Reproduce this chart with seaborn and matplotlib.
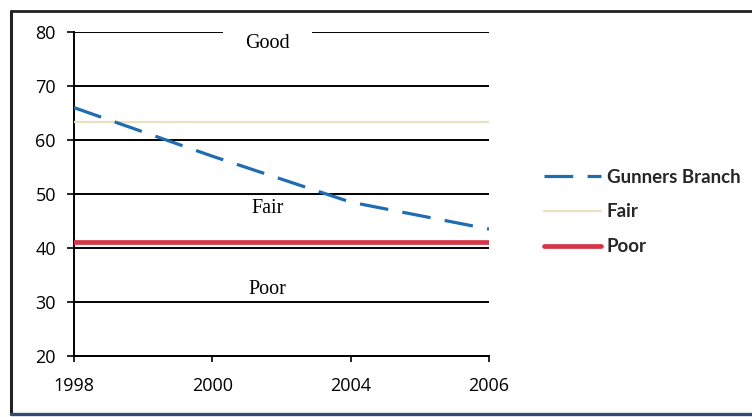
import matplotlib
matplotlib.use("Agg")
import matplotlib.pyplot as plt
import seaborn as sns
from matplotlib.lines import Line2D

# chart values
years = ["1998", "2000", "2004", "2006"]
gunners = [66, 57, 48.5, 43.5]
fair = [63.3, 63.3, 63.3, 63.3]
poor = [41.2, 41.2, 41.2, 41.2]
y_ticks = [20, 30, 40, 50, 60, 70, 80]
zones = ["Good", "Fair", "Poor"]
zone_y = [77.9, 47.4, 32.3]

sns.set_theme(style="white")
plt.rcParams["font.family"] = ["Open Sans", "DejaVu Sans"]

fig = plt.figure(figsize=(7.52, 4.17), dpi=100)
ax = fig.add_axes([74 / 752, 1 - 356 / 417, 415 / 752, 324 / 417])

sns.lineplot(x=years, y=gunners, ax=ax, color="#1f6db0", lw=2.3,
             sort=False, label="Gunners Branch", zorder=4)
ax.lines[-1].set_dashes((9, 4.5))
sns.lineplot(x=years, y=fair, ax=ax, color="#e6e2c2", lw=1.6,
             sort=False, label="Fair", zorder=3)
sns.lineplot(x=years, y=poor, ax=ax, color="#d63447", lw=3.4,
             sort=False, label="Poor", zorder=3)

ax.set_xlim(0, 3)
ax.set_ylim(20, 80)
ax.set_yticks(y_ticks)
ax.yaxis.grid(True, color="black", lw=1.4)
ax.xaxis.grid(False)
ax.set_axisbelow(True)
for s in ["top", "right"]:
    ax.spines[s].set_visible(False)
for s in ["left", "bottom"]:
    ax.spines[s].set_color("black")
    ax.spines[s].set_linewidth(1.4)
ax.tick_params(axis="y", left=True, length=5, width=1.2, pad=8,
               labelsize=13, colors="black")
ax.tick_params(axis="x", bottom=True, length=4, width=1.2, pad=11,
               labelsize=13, colors="black")
ax.set_xlabel("")
ax.set_ylabel("")

# zone names, "Good" hides part of the top grid line
for name, y in zip(zones, zone_y):
    box = None
    if name == "Good":
        box = dict(facecolor="white", edgecolor="none", boxstyle="square,pad=1.1")
    ax.text(1.4, y, name, ha="center", va="center", fontsize=14.5,
            family="Liberation Serif", color="black", bbox=box, zorder=5)

ax.get_legend().remove()
handles, labels = ax.get_legend_handles_labels()
fig.legend(handles, labels, loc="center left", bbox_to_anchor=(527 / 752, 1 - 212 / 417),
           frameon=False, handlelength=3.05, handletextpad=0.3, labelspacing=0.95,
           prop={"family": "Lato", "weight": "bold", "size": 13.5})

# scanned frame round the chart
fig.add_artist(Line2D([11 / 752, 11 / 752], [1 - 414 / 417, 1 - 11 / 417],
                      transform=fig.transFigure, color="#222222", lw=2.2, zorder=10))
fig.add_artist(Line2D([11 / 752, 1], [1 - 11 / 417, 1 - 11 / 417],
                      transform=fig.transFigure, color="#222222", lw=2.0, zorder=10))
fig.add_artist(Line2D([11 / 752, 1], [1 - 414 / 417, 1 - 414 / 417],
                      transform=fig.transFigure, color="#2d4e6e", lw=2.4, zorder=10))

fig.savefig("out.png", dpi=100)
